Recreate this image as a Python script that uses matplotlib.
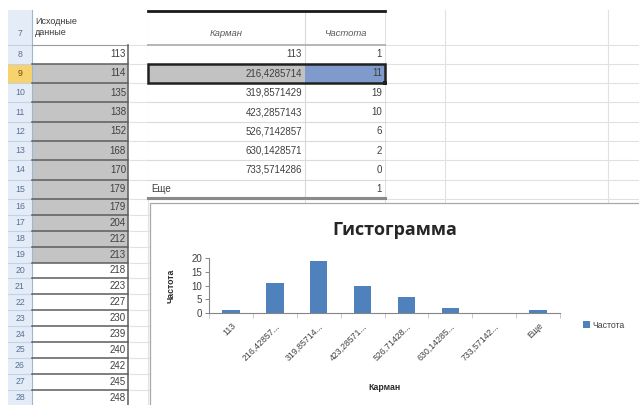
import matplotlib
matplotlib.use("Agg")
import matplotlib.pyplot as plt
from matplotlib.patches import Rectangle

plt.rcParams['font.family'] = ['Liberation Sans', 'DejaVu Sans']

# Source data column (sheet rows 8..28)
source_values = [113, 114, 135, 138, 152, 168, 170, 179, 179, 204, 212, 213,
                 218, 223, 227, 230, 239, 240, 242, 245, 248]
first_data_row = 8
selected_rows = (9, 19)

# Histogram output: bins ("pockets") and their frequencies
bin_values = [113, 216.4285714, 319.8571429, 423.2857143,
              526.7142857, 630.1428571, 733.5714286]
overflow_label = "Еще"
frequencies = [1, 11, 19, 10, 6, 2, 0, 1]

header_source = "Исходные\nданные"
header_bin = "Карман"
header_freq = "Частота"
chart_title = "Гистограмма"
y_ticks = [0, 5, 10, 15, 20]

W, H = 639, 405


def fmt_num(v):
    s = f"{v:.7f}".rstrip('0').rstrip('.')
    return s.replace('.', ',')


def short_label(s, n=9):
    return s if len(s) <= n else s[:n] + "..."


bin_text = [fmt_num(v) for v in bin_values] + [overflow_label]
cat_labels = [short_label(s) for s in bin_text]

# ---- sheet geometry (pixels) ----
edges = [10.0, 44.5]
for k in range(1, 9):
    edges.append(44.5 + 19.3 * k)
for k in range(1, 14):
    edges.append(edges[9] + 15.9 * k)
rows = list(range(7, 7 + len(edges) - 1))
rtop = {r: edges[i] for i, r in enumerate(rows)}
rbot = {r: edges[i + 1] for i, r in enumerate(rows)}

fig = plt.figure(figsize=(W / 100, H / 100), dpi=100)
bg = fig.add_axes([0, 0, 1, 1])
bg.set_xlim(0, W)
bg.set_ylim(H, 0)
bg.axis('off')

grid_c = '#E1E1E1'
# sheet gridlines
for r in rows[1:]:
    bg.plot([130, W], [rtop[r], rtop[r]], color=grid_c, lw=0.8, zorder=1)
for x in (148, 305, 385, 445, 608):
    bg.plot([x, x], [10, H], color=grid_c, lw=0.8, zorder=1)

# row header column
bg.add_patch(Rectangle((8, 10), 24, H, facecolor='#E4ECF7', edgecolor='none', zorder=2))
bg.add_patch(Rectangle((8, rtop[9]), 24, rbot[9] - rtop[9], facecolor='#F7D36E',
                       edgecolor='none', zorder=2))
for r in rows:
    bg.plot([8, 32], [rbot[r], rbot[r]], color='#C3D2E6', lw=0.8, zorder=3)
    yc = (rtop[r] + rbot[r]) / 2 + (6 if r == 7 else 0)
    bg.text(20, min(yc, 398.5), str(r),
            ha='center', va='center', fontsize=6.3,
            color='#6A4A10' if r == 9 else '#5B6F96', zorder=4)
bg.plot([32, 32], [10, H], color='#9EB6CE', lw=0.8, zorder=3)

# source column
bg.text(35, 27, header_source, ha='left', va='center', fontsize=6.5,
        color='#3A3A3A', linespacing=1.25, zorder=4)
bg.plot([32, 128], [rbot[7], rbot[7]], color='#9A9A9A', lw=0.8, zorder=3)
for i, v in enumerate(source_values):
    r = first_data_row + i
    if selected_rows[0] <= r <= selected_rows[1]:
        bg.add_patch(Rectangle((32, rtop[r]), 96, rbot[r] - rtop[r],
                               facecolor='#C4C4C4', edgecolor='none', zorder=2))
    bg.plot([32, 128], [rbot[r], rbot[r]], color='#5C5C5C', lw=1.1, zorder=3)
    yc = (rtop[r] + rbot[r]) / 2
    bg.text(126, min(yc, 398.5), str(v), ha='right', va='center',
            fontsize=7, color='#3F3F3F', zorder=4)
bg.plot([128, 128], [rtop[8], H], color='#5C5C5C', lw=1.1, zorder=3)

# frequency table
tx0, tx1, tx2 = 148, 305, 385
bg.add_patch(Rectangle((tx0, 11), tx2 - tx0, rbot[15] - 11, facecolor='white',
                       edgecolor='none', zorder=2))
bg.text((tx0 + tx1) / 2, 33, header_bin, ha='center', va='center', fontsize=6.8,
        style='italic', color='#595959', zorder=4)
bg.text((tx1 + tx2) / 2, 33, header_freq, ha='center', va='center', fontsize=6.8,
        style='italic', color='#595959', zorder=4)
for r in range(8, 16):
    bg.plot([tx0, tx2], [rbot[r], rbot[r]], color='#DADADA', lw=0.8, zorder=3)
bg.plot([tx1, tx1], [11, rbot[15]], color='#DADADA', lw=0.8, zorder=3)
# selected row of the table
r9 = 9
bg.add_patch(Rectangle((tx0, rtop[r9]), tx1 - tx0, rbot[r9] - rtop[r9],
                       facecolor='#C2C2C2', edgecolor='none', zorder=3))
bg.add_patch(Rectangle((tx1, rtop[r9]), tx2 - tx1, rbot[r9] - rtop[r9],
                       facecolor='#7F9BCC', edgecolor='none', zorder=3))
for i, s in enumerate(bin_text):
    r = first_data_row + i
    yc = (rtop[r] + rbot[r]) / 2
    if s == overflow_label:
        bg.text(tx0 + 3, yc, s, ha='left', va='center', fontsize=7,
                color='#3F3F3F', zorder=5)
    else:
        bg.text(tx1 - 3, yc, s, ha='right', va='center', fontsize=7,
                color='#3F3F3F', zorder=5)
    bg.text(tx2 - 3, yc, str(frequencies[i]), ha='right', va='center',
            fontsize=7, color='#3F3F3F', zorder=5)
bg.plot([tx0, tx2], [11, 11], color='#1A1A1A', lw=2.0, zorder=4)
bg.plot([tx0, tx2], [rbot[7], rbot[7]], color='#B5B5B5', lw=1.4, zorder=4)
bg.plot([tx0, tx2], [rbot[15] - 1, rbot[15] - 1], color='#8A8A8A', lw=2.2, zorder=4)
bg.add_patch(Rectangle((tx0, rtop[r9]), tx2 - tx0, rbot[r9] - rtop[r9],
                       facecolor='none', edgecolor='#202020', lw=1.8, zorder=5))
bg.add_patch(Rectangle((tx2 - 2, rbot[r9] - 2), 4, 4, facecolor='#202020',
                       edgecolor='none', zorder=6))

# chart area
bg.add_patch(Rectangle((150, 203), 520, 220, facecolor='white',
                       edgecolor='#A8A8A8', lw=0.9, zorder=7))

# ---- histogram chart ----
ax_l, ax_r, ax_b, ax_t = 209, 560, 313, 258
ax = fig.add_axes([ax_l / W, 1 - ax_b / H, (ax_r - ax_l) / W, (ax_b - ax_t) / H])
ax.set_facecolor('none')
xs = list(range(len(frequencies)))
bars = ax.bar(xs, frequencies, width=0.4, color='#4F81BD', label=header_freq, zorder=3)
ax.set_xlim(-0.5, len(frequencies) - 0.5)
ax.set_ylim(y_ticks[0], y_ticks[-1])
ax.set_yticks(y_ticks)
ax.set_xticks([x + 0.5 for x in xs[:-1]] + [-0.5, len(xs) - 0.5])
ax.set_xticklabels([])
ax.set_xticks(xs, minor=True)
ax.set_xticklabels(cat_labels, minor=True, rotation=45, ha='right',
                   rotation_mode='anchor', fontsize=6.3, color='#404040')
ax.tick_params(axis='x', which='minor', length=0, pad=6)
ax.tick_params(axis='x', which='major', length=3.5, color='#C8C8C8', width=0.7)
ax.tick_params(axis='y', length=3, color='#868686', width=0.7, labelsize=7,
               labelcolor='#404040', pad=2)
for s in ('top', 'right'):
    ax.spines[s].set_visible(False)
for s in ('left', 'bottom'):
    ax.spines[s].set_color('#868686')
    ax.spines[s].set_linewidth(0.8)
ax.set_ylabel(header_freq, fontsize=6.3, fontweight='bold', color='#2A2A2A')
ax.yaxis.set_label_coords((176 - ax_l) / (ax_r - ax_l), 0.5)
ax.set_xlabel(header_bin, fontsize=6.3, fontweight='bold', color='#2A2A2A')
ax.xaxis.set_label_coords(0.5, (ax_b - 383) / (ax_b - ax_t))
ax.legend(loc='center left', bbox_to_anchor=(579 / W, 1 - 325 / H),
          bbox_transform=fig.transFigure, frameon=False, fontsize=6.3,
          handlelength=0.7, handleheight=0.7, handletextpad=0.3, borderpad=0,
          labelcolor='#404040')
fig.text(395 / W, 1 - 230 / H, chart_title, ha='center', va='center',
         fontsize=13, fontweight='bold', color='#262626', family='Open Sans')

fig.savefig('out.png', dpi=100)
